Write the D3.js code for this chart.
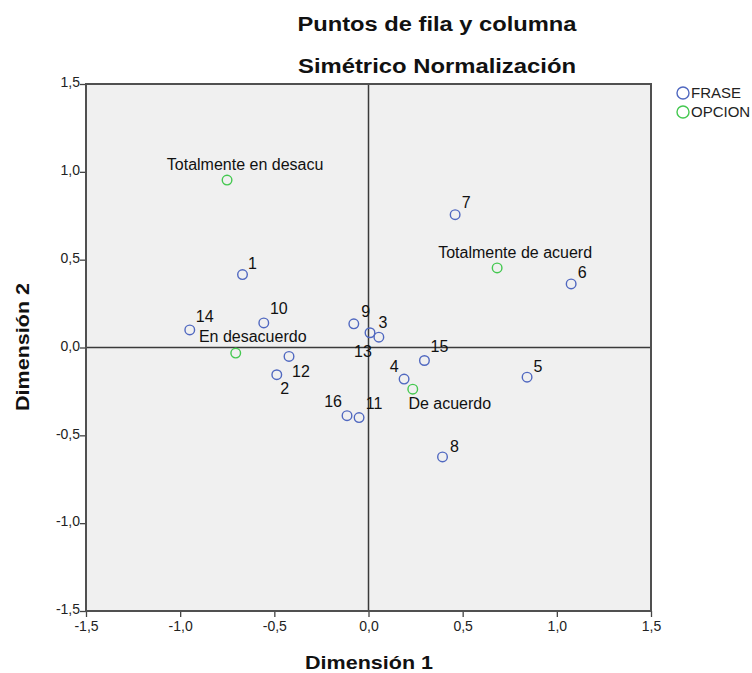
<!DOCTYPE html>
<html><head><meta charset="utf-8">
<script src="https://cdn.jsdelivr.net/npm/d3@7"></script>
<style>
body{margin:0;background:#fff;}
text{font-family:"Liberation Sans",Arial,sans-serif;}
</style></head>
<body>
<svg id="chart" width="752" height="673"></svg>
<script>
// ---- data ----
const fraseLabels = ["1","2","3","4","5","6","7","8","9","10","11","12","13","14","15","16"];
const fraseDim1 = [-0.669,-0.487,0.055,0.189,0.842,1.076,0.460,0.393,-0.078,-0.556,-0.050,-0.422,0.008,-0.949,0.297,-0.114];
const fraseDim2 = [0.415,-0.155,0.059,-0.180,-0.169,0.362,0.756,-0.623,0.135,0.140,-0.399,-0.051,0.084,0.100,-0.074,-0.388];
const opcionLabels = ["Totalmente en desacu","En desacuerdo","De acuerdo","Totalmente de acuerd"];
const opcionDim1 = [-0.751,-0.705,0.235,0.683];
const opcionDim2 = [0.953,-0.032,-0.237,0.453];
const tickValues = [-1.5,-1.0,-0.5,0.0,0.5,1.0,1.5];
const seriesNames = ["FRASE","OPCION"];

// ---- label placement (layout, px offsets of label centre from marker) ----
const fraseLabelOffset = {
  "1":[10,-11],"2":[8,14],"3":[4,-15],"4":[-10,-13],"5":[11,-11],"6":[11,-12],
  "7":[11,-12],"8":[12,-11],"9":[12,-12],"10":[15,-15],"11":[15,-14],"12":[12,15],
  "13":[-7,19],"14":[15,-14],"15":[15,-14],"16":[-14,-14]
};
const opcionLabelOffset = {
  "Totalmente en desacu":[18,-16],"En desacuerdo":[17,-17],
  "De acuerdo":[37,14],"Totalmente de acuerd":[18,-16]
};

const colors = {FRASE:"#5068c0", OPCION:"#44c850"};
const fmt = v => d3.format(".1f")(v).replace(".", ",").replace("−","-");

const svg = d3.select("#chart");
const pL=86,pR=651,pT=84,pB=611;
const x = d3.scaleLinear().domain([-1.5,1.5]).range([pL,pR]);
const y = d3.scaleLinear().domain([-1.5,1.5]).range([pB,pT]);

// plot background
svg.append("rect").attr("x",pL).attr("y",pT).attr("width",pR-pL).attr("height",pB-pT)
  .attr("fill","#f0f0f0");

// zero reference lines
svg.append("line").attr("x1",x(0)).attr("x2",x(0)).attr("y1",pT).attr("y2",pB)
  .attr("stroke","#3a3a3a").attr("stroke-width",1.5);
svg.append("line").attr("x1",pL).attr("x2",pR).attr("y1",y(0)).attr("y2",y(0))
  .attr("stroke","#3a3a3a").attr("stroke-width",1.5);

// axes
const xAxis = d3.axisBottom(x).tickValues(tickValues).tickFormat(fmt).tickSizeOuter(0).tickSize(6);
const yAxis = d3.axisLeft(y).tickValues(tickValues).tickFormat(fmt).tickSizeOuter(0).tickSize(6);
const gx = svg.append("g").attr("transform",`translate(0,${pB})`).call(xAxis);
const gy = svg.append("g").attr("transform",`translate(${pL},0)`).call(yAxis);
[gx,gy].forEach(g=>{
  g.select(".domain").remove();
  g.selectAll(".tick line").attr("stroke","#444").attr("stroke-width",1.3);
  g.selectAll(".tick text").attr("fill","#222").style("font-size","14px")
   .style("font-family","'Liberation Sans',Arial,sans-serif");
});
gx.selectAll(".tick text").attr("dy","0.9em").attr("y",7);
gy.selectAll(".tick text").attr("x",-6).attr("dy","0.2em");

// frame
svg.append("rect").attr("x",pL).attr("y",pT).attr("width",pR-pL).attr("height",pB-pT)
  .attr("fill","none").attr("stroke","#505050").attr("stroke-width",2);

// points
const frase = fraseLabels.map((l,i)=>({label:l,x:fraseDim1[i],y:fraseDim2[i]}));
const opcion = opcionLabels.map((l,i)=>({label:l,x:opcionDim1[i],y:opcionDim2[i]}));

function drawSeries(data, color, offs){
  const g = svg.append("g");
  g.selectAll("circle").data(data).join("circle")
    .attr("cx",d=>x(d.x)).attr("cy",d=>y(d.y)).attr("r",4.8)
    .attr("fill","none").attr("stroke",color).attr("stroke-width",1.4);
  g.selectAll("text").data(data).join("text")
    .attr("x",d=>x(d.x)+offs[d.label][0]).attr("y",d=>y(d.y)+offs[d.label][1])
    .attr("text-anchor","middle").attr("dy","0.35em")
    .style("font-size","16px").attr("fill","#111").text(d=>d.label);
}
drawSeries(frase, colors.FRASE, fraseLabelOffset);
drawSeries(opcion, colors.OPCION, opcionLabelOffset);

// titles
svg.append("text").attr("x",437).attr("y",31).attr("text-anchor","middle")
  .style("font-size","20px").style("font-weight","bold").attr("fill","#111")
  .attr("textLength",279).attr("lengthAdjust","spacingAndGlyphs").text("Puntos de fila y columna");
svg.append("text").attr("x",437).attr("y",72.5).attr("text-anchor","middle")
  .style("font-size","20px").style("font-weight","bold").attr("fill","#111")
  .attr("textLength",278).attr("lengthAdjust","spacingAndGlyphs").text("Simétrico Normalización");

// axis titles
svg.append("text").attr("x",369).attr("y",669).attr("text-anchor","middle")
  .style("font-size","19px").style("font-weight","bold").attr("fill","#111")
  .attr("textLength",128).attr("lengthAdjust","spacingAndGlyphs").text("Dimensión 1");
svg.append("text").attr("transform",`translate(29,347) rotate(-90)`).attr("text-anchor","middle")
  .style("font-size","19px").style("font-weight","bold").attr("fill","#111")
  .attr("textLength",128).attr("lengthAdjust","spacingAndGlyphs").text("Dimensión 2");

// legend
const lg = svg.append("g");
seriesNames.forEach((n,i)=>{
  const cy = 93 + i*19;
  lg.append("circle").attr("cx",683).attr("cy",cy).attr("r",6)
    .attr("fill","none").attr("stroke",colors[n]).attr("stroke-width",1.4);
  lg.append("text").attr("x",691).attr("y",cy).attr("dy","0.36em")
    .style("font-size","15px").attr("fill","#222").text(n);
});
</script>
</body></html>
